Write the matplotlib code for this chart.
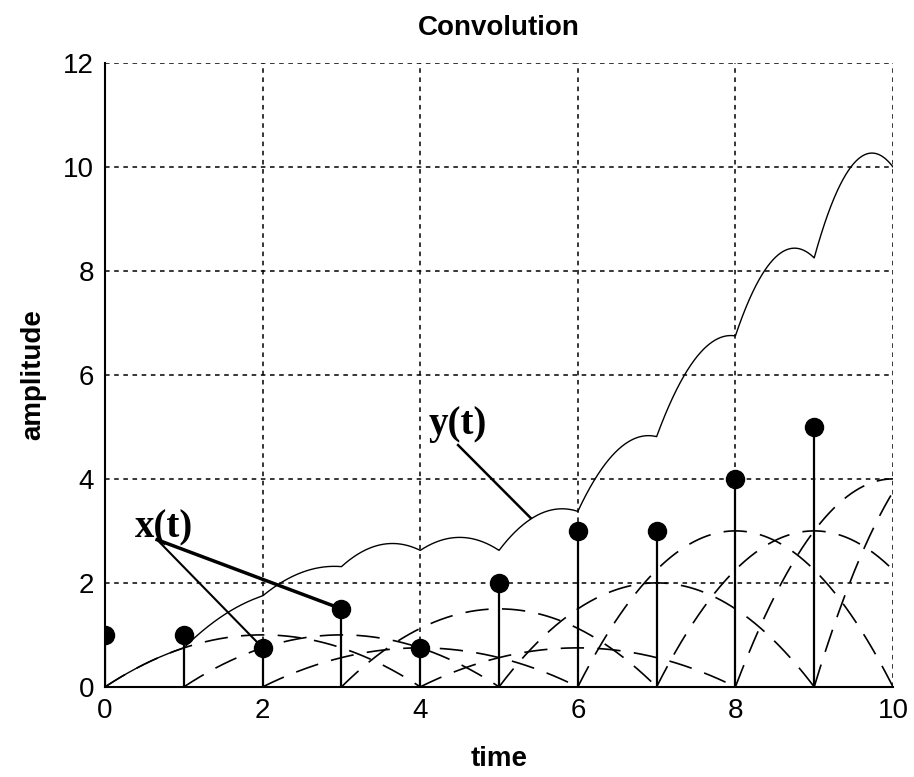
import numpy as np
import matplotlib
matplotlib.use("Agg")
import matplotlib.pyplot as plt

# input samples x(t) at integer times
n = [0, 1, 2, 3, 4, 5, 6, 7, 8, 9]
x = [1, 1, 0.75, 1.5, 0.75, 2, 3, 3, 4, 5]

# impulse response: parabolic pulse, width 4, peak 1
pulse_width = 4.0
def h(tau):
    out = tau * (pulse_width - tau) / pulse_width
    out[(tau < 0) | (tau > pulse_width)] = 0
    return out

t = np.linspace(0, 10, 2001)

sans = ['Liberation Sans', 'DejaVu Sans']

fig = plt.figure(figsize=(9.14, 7.77), dpi=100)
ax = fig.add_axes([0.115, 0.116, 0.862, 0.803])

y = np.zeros_like(t)
for k, a in zip(n, x):
    part = a * h(t - k)
    y += part
    m = (t >= k) & (t <= k + pulse_width)
    ax.plot(t[m], part[m], color='black', lw=1.2, dashes=(14, 8))

ax.plot(t, y, color='black', lw=1.0)

ml, sl, bl = ax.stem(n, x, linefmt='k-', markerfmt='ko', basefmt=' ')
plt.setp(sl, linewidth=1.6)
plt.setp(ml, markersize=13)

ax.set_xlim(0, 10)
ax.set_ylim(0, 12)
ax.set_xticks(range(0, 11, 2))
ax.set_yticks(range(0, 13, 2))
ax.grid(True, color='black', linestyle=(0, (3, 3)), linewidth=1.1)
ax.spines['top'].set_visible(False)
ax.spines['right'].set_visible(False)
ax.spines['left'].set_linewidth(1.5)
ax.spines['bottom'].set_linewidth(1.5)
ax.tick_params(length=0, pad=8)
for lab in ax.get_xticklabels() + ax.get_yticklabels():
    lab.set_fontfamily(sans)
    lab.set_fontsize(20)

ax.set_title('Convolution', fontsize=20, fontweight='bold', family=sans, pad=20)
ax.set_xlabel('time', fontsize=20, fontweight='bold', family=sans, labelpad=16)
ax.set_ylabel('amplitude', fontsize=20, fontweight='bold', family=sans, labelpad=12)

# annotations
ax.text(0.38, 3.05, 'x(t)', fontsize=28, fontweight='bold', family='Liberation Serif', va='center')
ax.plot([0.66, 2.0], [2.83, 0.75], color='black', lw=1.5)
ax.plot([0.66, 3.0], [2.83, 1.5], color='black', lw=2.5)
ax.text(4.1, 5.05, 'y(t)', fontsize=28, fontweight='bold', family='Liberation Serif', va='center')
ax.plot([4.48, 5.4], [4.65, 3.25], color='black', lw=1.8)

fig.savefig('out.png', dpi=100)
